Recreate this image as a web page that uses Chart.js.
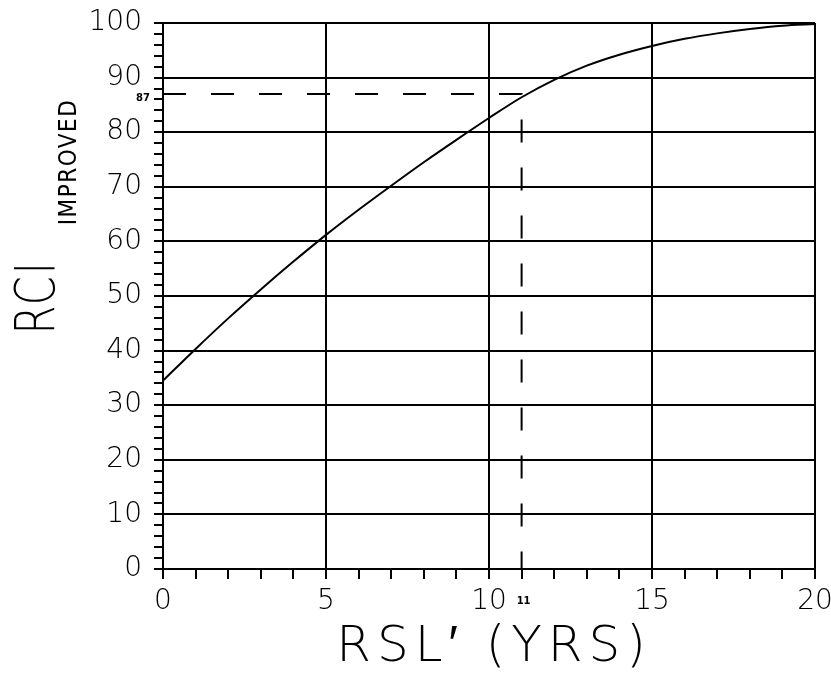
<!DOCTYPE html>
<html>
<head>
<meta charset="utf-8">
<script src="https://cdn.jsdelivr.net/npm/chart.js@4.4.1/dist/chart.umd.min.js"></script>
<style>
  html, body { margin: 0; padding: 0; background: #fff; }
  #rciChart { display: block; }
</style>
</head>
<body>
<canvas id="rciChart" width="831" height="674"></canvas>
<script>
  'use strict';

  // Remaining service life (years) and improved RCI.
  var rslYears = [0, 1, 2, 3, 4, 5, 6, 7, 8, 9, 10, 11, 12, 13, 14, 15, 16, 17, 18, 19, 20];
  var rciImproved = [34.5, 40.3, 45.9, 51.2, 56.3, 61.2, 65.8, 70.2, 74.5, 78.6, 82.6, 86.4, 89.6, 92.2, 94.2, 95.8, 97.1, 98.1, 98.9, 99.5, 99.8];

  // Read-off example shown with dashed lines.
  var markRsl = 11;
  var markRci = 87;

  var xTickLabels = [0, 5, 10, 15, 20];
  var yTickLabels = [0, 10, 20, 30, 40, 50, 60, 70, 80, 90, 100];

  var TICK_FONT = { family: '"DejaVu Sans", sans-serif', size: 28, weight: '200' };

  var curvePoints = rslYears.map(function (x, i) {
    return { x: x, y: rciImproved[i] };
  });
  var markPoints = [
    { x: 0, y: markRci },
    { x: markRsl, y: markRci },
    { x: markRsl, y: 0 }
  ];

  function majorColor(step) {
    return function (ctx) {
      return ctx.tick && ctx.tick.value % step === 0 ? '#000' : 'rgba(0,0,0,0)';
    };
  }

  // Axis titles and small read-off labels.
  var titlesPlugin = {
    id: 'titles',
    afterDraw: function (chart) {
      var ctx = chart.ctx;
      var xs = chart.scales.x;
      var ys = chart.scales.y;
      ctx.save();
      ctx.fillStyle = '#000';

      // x title
      ctx.font = '200 50px "DejaVu Sans", sans-serif';
      ctx.letterSpacing = '6px';
      ctx.textAlign = 'center';
      ctx.textBaseline = 'alphabetic';
      ctx.fillText('RSL\u2032 (YRS)', 494, 661);

      // y title "RCI" (narrow, rotated)
      ctx.letterSpacing = '3px';
      ctx.save();
      ctx.translate(54, 297);
      ctx.rotate(-Math.PI / 2);
      ctx.scale(0.74, 1);
      ctx.font = '200 56px "DejaVu Sans", sans-serif';
      ctx.textAlign = 'center';
      ctx.fillText('RCI', 0, 0);
      ctx.restore();

      // subscript "IMPROVED"
      ctx.letterSpacing = '1.5px';
      ctx.save();
      ctx.translate(76, 162);
      ctx.rotate(-Math.PI / 2);
      ctx.font = '24px "DejaVu Sans Condensed", "DejaVu Sans", sans-serif';
      ctx.textAlign = 'center';
      ctx.fillText('IMPROVED', 0, 0);
      ctx.restore();

      // small bold read-off values
      ctx.letterSpacing = '0px';
      ctx.font = 'bold 10px "DejaVu Sans", sans-serif';
      ctx.textBaseline = 'middle';
      ctx.textAlign = 'right';
      ctx.fillText(String(markRci), 150, ys.getPixelForValue(markRci) + 4);
      ctx.textAlign = 'center';
      ctx.fillText(String(markRsl), xs.getPixelForValue(markRsl) + 2, 601);
      ctx.restore();
    }
  };

  new Chart(document.getElementById('rciChart').getContext('2d'), {
    type: 'line',
    data: {
      datasets: [{
        data: curvePoints,
        borderColor: '#000',
        borderWidth: 2,
        pointRadius: 0,
        cubicInterpolationMode: 'monotone',
        fill: false
      }, {
        data: markPoints,
        borderColor: '#000',
        borderWidth: 2,
        borderDash: [23, 25],
        pointRadius: 0,
        tension: 0,
        fill: false
      }]
    },
    options: {
      responsive: false,
      animation: false,
      devicePixelRatio: 1,
      layout: { padding: { top: 23, right: 0, left: 0, bottom: 0 } },
      plugins: {
        legend: { display: false },
        tooltip: { enabled: false }
      },
      scales: {
        x: {
          type: 'linear',
          min: 0,
          max: 20,
          afterFit: function (scale) {
            scale.height = 105;
            scale.paddingRight = 16;
          },
          afterBuildTicks: function (scale) {
            scale.ticks = rslYears.map(function (v) { return { value: v }; });
          },
          ticks: {
            autoSkip: false,
            maxRotation: 0,
            padding: 6,
            color: '#000',
            font: TICK_FONT,
            callback: function (v) {
              return xTickLabels.indexOf(v) !== -1 ? String(v) : '';
            }
          },
          grid: {
            color: majorColor(5),
            lineWidth: 2,
            tickColor: '#000',
            tickLength: 10,
            tickWidth: 2
          },
          border: { color: '#000', width: 2 }
        },
        y: {
          type: 'linear',
          min: 0,
          max: 100,
          afterFit: function (scale) {
            scale.width = 163;
            scale.paddingTop = 0;
          },
          ticks: {
            stepSize: 2,
            autoSkip: false,
            padding: 12,
            color: '#000',
            font: TICK_FONT,
            callback: function (v) {
              return yTickLabels.indexOf(v) !== -1 ? String(v) : '';
            }
          },
          grid: {
            color: majorColor(10),
            lineWidth: 2,
            tickColor: '#000',
            tickLength: 9,
            tickWidth: 2
          },
          border: { color: '#000', width: 2 }
        }
      }
    },
    plugins: [titlesPlugin]
  });
</script>
</body>
</html>
